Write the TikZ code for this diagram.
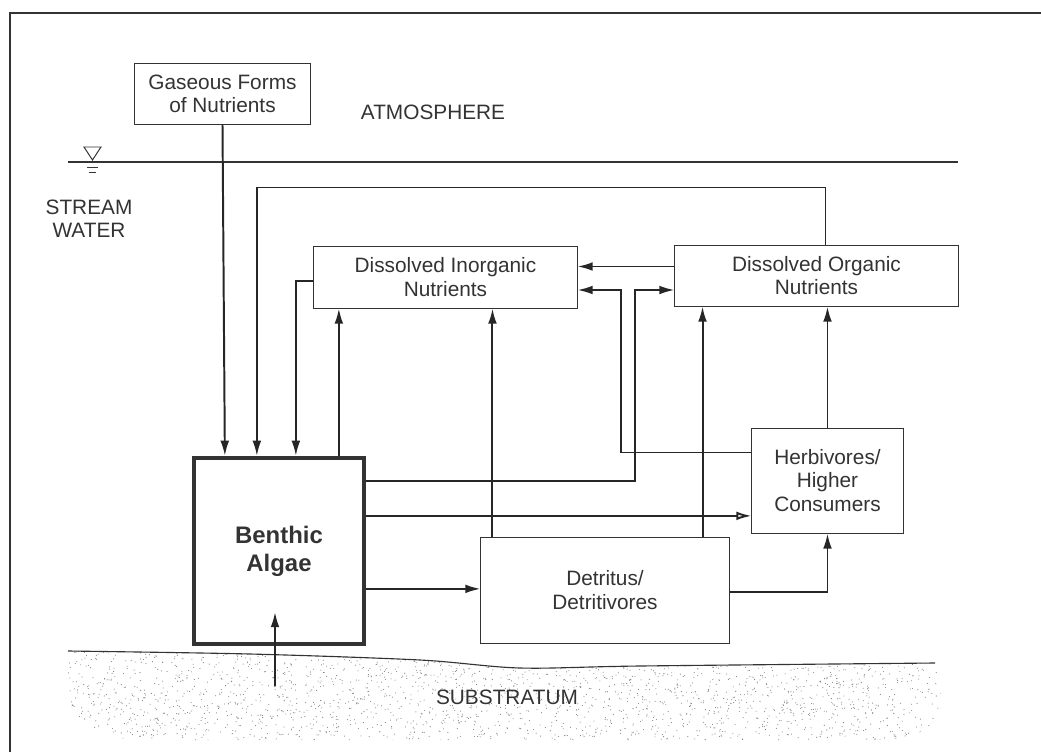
\documentclass[tikz,border=0pt]{standalone}
\usepackage{fontspec}
\setmainfont{Liberation Sans}
\usetikzlibrary{arrows.meta,calc}

\tikzset{
    box/.style={draw=black!80, line width=0.7pt, inner sep=0pt, align=center,
        text=black!80, font=\fontsize{14.8}{16.5}\selectfont},
    algaebox/.style={box, line width=3pt, font=\bfseries\fontsize{17}{20}\selectfont},
    flow/.style={draw=black!85, line width=1.4pt, -{Latex[length=0.38cm,width=0.22cm]}},
    openflow/.style={flow, -{Latex[open,length=0.38cm,width=0.22cm]}},
    label/.style={text=black!80, align=center, font=\fontsize{14.8}{16.5}\selectfont}
}

\begin{document}
\begin{tikzpicture}[x=0.025cm, y=-0.025cm]
    \useasboundingbox (0,0) rectangle (1041,752);
    \draw[black!80, line width=0.8pt] (10,752) -- (10,13) -- (1041,13);

    % substratum
    \begin{scope}
        \clip plot[smooth] coordinates {(68,651) (250,654) (420,660) (520,668) (640,666) (935,663)}
            -- (942,700) .. controls (935,740) and (900,740) .. (860,740)
            -- (150,740) .. controls (90,740) and (70,720) .. (68,690) -- cycle;
        \pgfmathsetseed{11}
        \foreach \i in {1,...,2400}
            \fill[black!50] ({68+874*rnd},{650+92*rnd}) circle (0.55);
    \end{scope}
    \draw[black!80, line width=0.8pt] plot[smooth] coordinates
        {(68,651) (250,654) (420,660) (520,668) (640,666) (935,663)};
    \node[label] (substr) at (507,697) {SUBSTRATUM};

    % water surface
    \draw[black!80, line width=0.8pt] (68,162) -- (958,162);
    \draw[black!80, line width=0.7pt] (84,147) -- (101,147) -- (92.5,160) -- cycle;
    \draw[black!80, line width=0.7pt] (87,167) -- (98,167) (89,172) -- (96,172);
    \node[label] (atmos) at (433,112) {ATMOSPHERE};
    \node[label] (stream) at (89,219) {STREAM\\WATER};

    % compartments
    \node[box, minimum width=4.375cm, minimum height=1.525cm] (gas) at (222.5,93.5)
        {Gaseous Forms\\of Nutrients};
    \node[box, minimum width=6.575cm, minimum height=1.55cm] (dinorg) at (445.5,277)
        {Dissolved Inorganic\\Nutrients};
    \node[box, minimum width=7.075cm, minimum height=1.525cm] (dorg) at (816.5,275.5)
        {Dissolved Organic\\Nutrients};
    \node[box, minimum width=3.775cm, minimum height=2.625cm] (herb) at (827.5,480.5)
        {Herbivores/\\Higher\\Consumers};
    \node[box, minimum width=6.2cm, minimum height=2.65cm] (detr) at (605,590)
        {Detritus/\\Detritivores};
    \node[algaebox, minimum width=4.25cm, minimum height=4.65cm] (algae) at (279,551)
        {Benthic\\Algae};

    % flows into algae
    \draw[flow] (gas.south) -- ($(algae.north west)+(33,0)$);
    \draw[flow] ($(dorg.north)+(9,0)$) -- ++(0,-57) -| ($(algae.north west)+(65,0)$);
    \draw[flow] ($(dinorg.west)+(0,4)$) -| ($(algae.north west)+(104,0)$);
    \coordinate (sub) at (275,686);
    \draw[flow] (sub) -- (sub |- 0,612);

    % flows out of algae
    \coordinate (a1) at ($(algae.north west)+(147,0)$);
    \draw[flow] (a1) -- (a1 |- dinorg.south);
    \draw[flow] ($(algae.north east)+(0,25)$) -| ($(dorg.west)+(-39,14.5)$) -- ($(dorg.west)+(0,14.5)$);
    \coordinate (a2) at ($(algae.north east)+(0,60)$);
    \draw[openflow] (a2) -- (a2 -| herb.west);
    \coordinate (a3) at ($(algae.north east)+(0,133)$);
    \draw[flow] (a3) -- (a3 -| detr.west);

    % nutrient exchange
    \coordinate (o1) at ($(dorg.west)+(0,-9)$);
    \draw[flow] (o1) -- (o1 -| dinorg.east);
    \draw[flow] ($(herb.west)+(0,-28)$) -| ($(dinorg.east)+(43,13)$) -- ($(dinorg.east)+(0,13)$);
    \draw[flow] (herb.north) -- (herb.north |- dorg.south);

    % detritus
    \coordinate (d1) at ($(detr.north west)+(12,0)$);
    \draw[flow] (d1) -- (d1 |- dinorg.south);
    \coordinate (d2) at ($(detr.north east)+(-27,0)$);
    \draw[flow] (d2) -- (d2 |- dorg.south);
    \draw[flow] ($(detr.east)+(0,2)$) -| (herb.south);
\end{tikzpicture}
\end{document}
